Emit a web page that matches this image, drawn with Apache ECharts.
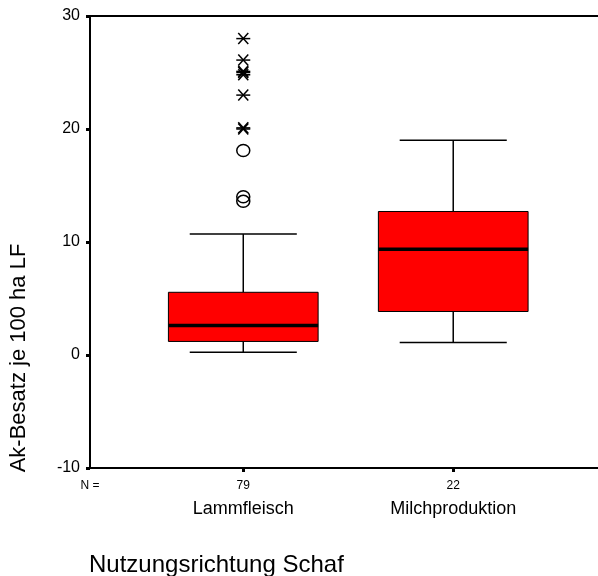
<!DOCTYPE html>
<html>
<head>
<meta charset="utf-8">
<script src="https://cdn.jsdelivr.net/npm/echarts@6/dist/echarts.min.js"></script>
<style>
  html, body { margin: 0; padding: 0; background: #fff; }
  #chart { width: 598px; height: 576px; }
</style>
</head>
<body>
<div id="chart"></div>
<script>
  // Boxplot Ak-Besatz nach Nutzungsrichtung
  const categories = ['Lammfleisch', 'Milchproduktion'];
  const counts = [79, 22];
  const whiskerLow = [0.25, 1.1];
  const q1 = [1.2, 3.85];
  const median = [2.6, 9.35];
  const q3 = [5.55, 12.7];
  const whiskerHigh = [10.7, 19.0];
  // Ausreisser (Kreise) und Extremwerte (Sterne), alle bei Lammfleisch
  const outlierValues = [13.6, 14.0, 18.1];
  const extremeValues = [20.0, 20.1, 23.0, 24.8, 25.0, 25.1, 26.1, 28.0];
  const yTicks = [-10, 0, 10, 20, 30];

  const font = 'Liberation Sans, Arial, sans-serif';
  const xMin = 0.27, xMax = 2.78;

  const boxData = categories.map((c, i) =>
    [i + 1, whiskerLow[i], q1[i], median[i], q3[i], whiskerHigh[i]]);
  const pointData = outlierValues.map(v => [1, v, 0])
    .concat(extremeValues.map(v => [1, v, 1]));

  function line(x1, y1, x2, y2, w) {
    return { type: 'line', shape: { x1, y1, x2, y2 }, style: { stroke: '#000', lineWidth: w } };
  }

  function renderBox(params, api) {
    const x = api.value(0);
    const bw = api.size([0.713, 0])[0];
    const ww = api.size([0.51, 0])[0];
    const cx = api.coord([x, 0])[0];
    const y = i => api.coord([x, api.value(i)])[1];
    const lo = y(1), b = y(2), m = y(3), t = y(4), hi = y(5);
    return {
      type: 'group',
      children: [
        line(cx, hi, cx, t, 1.5),
        line(cx, b, cx, lo, 1.5),
        line(cx - ww / 2, hi, cx + ww / 2, hi, 1.5),
        line(cx - ww / 2, lo, cx + ww / 2, lo, 1.5),
        { type: 'rect', shape: { x: cx - bw / 2, y: t, width: bw, height: b - t },
          style: { fill: '#ff0000', stroke: '#000', lineWidth: 1 } },
        line(cx - bw / 2, m, cx + bw / 2, m, 3.5)
      ]
    };
  }

  function renderPoint(params, api) {
    const p = api.coord([api.value(0), api.value(1)]);
    if (api.value(2) === 0) {
      return { type: 'ellipse', shape: { cx: p[0], cy: p[1], rx: 6.5, ry: 6 },
        style: { fill: 'none', stroke: '#000', lineWidth: 1.5 } };
    }
    return {
      type: 'group',
      children: [
        line(p[0] - 7, p[1], p[0] + 7, p[1], 1.5),
        line(p[0] - 5, p[1] - 5.5, p[0] + 5, p[1] + 5.5, 1.5),
        line(p[0] + 5, p[1] - 5.5, p[0] - 5, p[1] + 5.5, 1.5)
      ]
    };
  }

  const chart = echarts.init(document.getElementById('chart'));
  chart.setOption({
    animation: false,
    backgroundColor: '#fff',
    title: {
      text: 'Nutzungsrichtung Schaf',
      left: 89, top: 553, padding: 0,
      textStyle: { fontSize: 24, fontWeight: 'normal', color: '#000', fontFamily: font }
    },
    grid: {
      left: 90, top: 16, width: 527, bottom: 108,
      outerBoundsMode: 'none', containLabel: false,
      show: true, borderColor: '#000', borderWidth: 2, backgroundColor: 'transparent'
    },
    xAxis: {
      type: 'value', min: xMin, max: xMax,
      splitLine: { show: false },
      axisLine: { onZero: false, lineStyle: { color: '#000', width: 2 } },
      axisTick: { show: true, customValues: [1, 2], length: 4, lineStyle: { color: '#000', width: 3 } },
      axisLabel: {
        customValues: [xMin, 1, 2],
        margin: 10,
        color: '#000',
        fontFamily: font,
        formatter: v => {
          if (v < 0.5) return '{n|N =}';
          const i = Math.round(v) - 1;
          return '{n|' + counts[i] + '}\n{c|' + categories[i] + '}';
        },
        rich: {
          n: { fontSize: 12, lineHeight: 16, fontFamily: font, color: '#000' },
          c: { fontSize: 18, lineHeight: 30, fontFamily: font, color: '#000' }
        }
      }
    },
    yAxis: {
      type: 'value',
      min: yTicks[0], max: yTicks[yTicks.length - 1], interval: 10,
      splitLine: { show: false },
      axisLine: { show: true, lineStyle: { color: '#000', width: 2 } },
      axisTick: { show: true, length: 4, lineStyle: { color: '#000', width: 3 } },
      axisLabel: { color: '#000', fontSize: 16, margin: 10, fontFamily: font }
    },
    graphic: [{
      type: 'text', x: 19, y: 358, rotation: Math.PI / 2,
      style: { text: 'Ak-Besatz je 100 ha LF', fontSize: 22, fill: '#000',
        align: 'center', verticalAlign: 'middle', fontFamily: font }
    }],
    series: [
      {
        type: 'custom', renderItem: renderBox, data: boxData,
        encode: { x: 0, y: [1, 2, 3, 4, 5] }
      },
      {
        type: 'custom', renderItem: renderPoint, data: pointData,
        encode: { x: 0, y: 1 }
      }
    ]
  });
</script>
</body>
</html>
